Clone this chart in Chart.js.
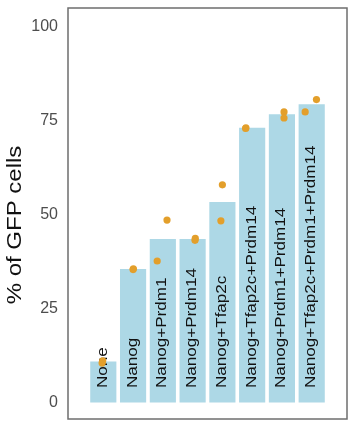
<!DOCTYPE html>
<html>
<head>
<meta charset="utf-8">
<script src="https://cdn.jsdelivr.net/npm/chart.js@4"></script>
<style>
  html, body { margin: 0; padding: 0; background: #ffffff; }
  #wrap { width: 364px; height: 427px; }
</style>
</head>
<body>
<div id="wrap"><canvas id="c" width="364" height="427"></canvas></div>
<script>
const categories = ['None', 'Nanog', 'Nanog+Prdm1', 'Nanog+Prdm14', 'Nanog+Tfap2c',
  'Nanog+Tfap2c+Prdm14', 'Nanog+Prdm1+Prdm14', 'Nanog+Tfap2c+Prdm1+Prdm14'];
const meanValues = [10.7, 35.4, 43.4, 43.4, 53.2, 73.0, 76.6, 79.3];
const replicate1 = [10.4, 35.3, 37.6, 43.1, 57.9, 72.9, 77.3, 77.3];
const replicate2 = [11.0, 35.5, 48.5, 43.6, 48.3, 73.1, 75.7, 80.6];
const jitter1 = [-0.04, 0.00, -0.19, 0.08, 0.00, -0.22, 0.07, -0.22];
const jitter2 = [-0.02, 0.01, 0.14, 0.09, -0.05, -0.21, 0.07, 0.16];
const yTickValues = [0, 25, 50, 75, 100];
const yTickLabels = ['0', '25', '50', '75', '100'];
const yTitle = '% of GFP cells';

const FONT = '"Liberation Sans", Arial, Helvetica, sans-serif';

const barData = categories.map((c, i) => ({ x: i, y: meanValues[i] }));
const pointData = [];
categories.forEach((c, i) => {
  pointData.push({ x: i + jitter1[i], y: replicate1[i] });
  pointData.push({ x: i + jitter2[i], y: replicate2[i] });
});

const decorPlugin = {
  id: 'decor',
  afterDatasetDraw(chart, args) {
    if (args.index !== 0) return;
    const ctx = chart.ctx;
    const xs = chart.scales.x, ys = chart.scales.y;
    const y0 = ys.getPixelForValue(0);
    ctx.save();
    ctx.fillStyle = '#111111';
    ctx.font = '14px ' + FONT;
    ctx.textAlign = 'left';
    ctx.textBaseline = 'alphabetic';
    categories.forEach((label, i) => {
      const x = xs.getPixelForValue(i);
      ctx.save();
      ctx.translate(x + 3.5, y0 - 14);
      ctx.rotate(-Math.PI / 2);
      ctx.scale(1.22, 1);
      ctx.fillText(label, 0, 0);
      ctx.restore();
    });
    ctx.restore();
  },
  afterDraw(chart) {
    const ctx = chart.ctx;
    const a = chart.chartArea;
    ctx.save();
    ctx.strokeStyle = '#6e6e6e';
    ctx.lineWidth = 1.5;
    ctx.strokeRect(a.left, a.top, a.right - a.left, a.bottom - a.top);
    // y axis title
    ctx.fillStyle = '#111111';
    ctx.font = '20px ' + FONT;
    ctx.textAlign = 'center';
    ctx.textBaseline = 'alphabetic';
    ctx.translate(20.5, 225);
    ctx.rotate(-Math.PI / 2);
    ctx.scale(1.2, 1);
    ctx.fillText(yTitle, 0, 0);
    ctx.restore();
  }
};

new Chart(document.getElementById('c'), {
  type: 'bar',
  data: {
    datasets: [
      {
        type: 'bar',
        data: barData,
        backgroundColor: '#add8e6',
        borderWidth: 0,
        barThickness: 25.5,
        order: 1
      },
      {
        type: 'scatter',
        data: pointData,
        backgroundColor: '#e39f2b',
        borderWidth: 0,
        pointRadius: 3.6,
        pointHoverRadius: 3.6,
        order: 0
      }
    ]
  },
  options: {
    responsive: false,
    animation: false,
    events: [],
    layout: { padding: { left: 0, top: 8, right: 17, bottom: 8 } },
    plugins: { legend: { display: false }, tooltip: { enabled: false } },
    scales: {
      x: {
        type: 'linear',
        min: -0.6,
        max: 7.6,
        display: false,
        ticks: { stepSize: 1 },
        grid: { display: false }
      },
      y: {
        type: 'linear',
        min: -4.5,
        max: 105,
        afterBuildTicks(scale) {
          scale.ticks = yTickValues.map(v => ({ value: v }));
        },
        afterFit(scale) {
          scale.width = 68;
          scale.paddingTop = 0;
          scale.paddingBottom = 0;
        },
        grid: { display: false, drawTicks: false },
        border: { display: false },
        ticks: {
          padding: 10,
          color: '#4d4d4d',
          font: { family: FONT, size: 16, lineHeight: 1 },
          callback(value) {
            const k = yTickValues.indexOf(value);
            return k >= 0 ? yTickLabels[k] : '';
          }
        }
      }
    }
  },
  plugins: [decorPlugin]
});
</script>
</body>
</html>
